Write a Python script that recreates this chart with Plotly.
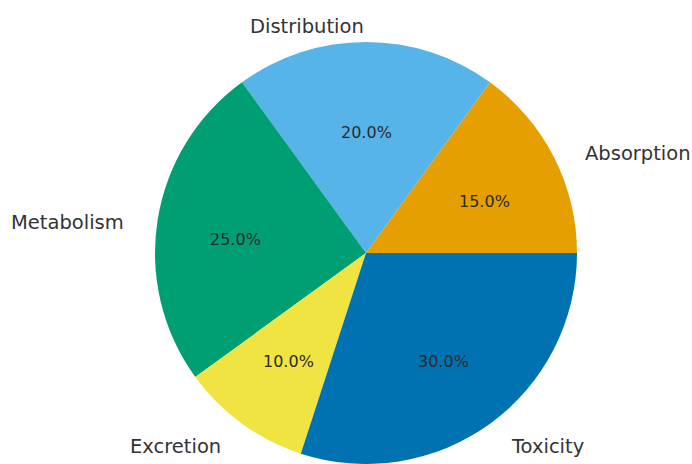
import math
import plotly.graph_objects as go

labels = ["Absorption", "Distribution", "Metabolism", "Excretion", "Toxicity"]
values = [15, 20, 25, 10, 30]
colors = ["#E69F00", "#56B4E9", "#009E73", "#F0E442", "#0072B2"]

W, H = 692, 464
cx, cy, R = 366, 253, 211  # pie centre / radius in pixels
# text placement geometry (the original figure is slightly stretched horizontally)
tx_c, ty_c, tRx, tRy = 366, 259, 221, 211

dom_x = [(cx - R) / W, (cx + R) / W]
dom_y = [1 - (cy + R) / H, 1 - (cy - R) / H]

total = sum(values)
# plotly's counterclockwise pies place the END of the first slice at `rotation`;
# we want the first slice to START at 3 o'clock.
rotation = 90 - 360 * values[0] / total

fig = go.Figure(go.Pie(
    labels=labels, values=values, sort=False,
    direction="counterclockwise", rotation=rotation,
    marker=dict(colors=colors, line=dict(width=0)),
    textinfo="none", hoverinfo="label+percent",
    domain=dict(x=dom_x, y=dom_y), showlegend=False,
))

annotations = []
start = 0.0
for lab, v in zip(labels, values):
    frac = v / total
    theta = 2 * math.pi * (start + frac / 2)
    start += frac
    c, s = math.cos(theta), math.sin(theta)
    lx = tx_c + 1.1 * tRx * c
    ly = ty_c - 1.1 * tRy * s
    annotations.append(dict(
        x=lx / W, y=1 - ly / H, xref="paper", yref="paper",
        text=lab, showarrow=False,
        xanchor="left" if c > 1e-6 else "right", yanchor="middle",
        font=dict(family="DejaVu Sans", size=19.5, color="#333333"),
    ))
    px = tx_c + 0.6 * tRx * c
    py = ty_c - 0.6 * tRy * s
    annotations.append(dict(
        x=px / W, y=1 - py / H, xref="paper", yref="paper",
        text=f"{100 * frac:.1f}%", showarrow=False,
        xanchor="center", yanchor="middle",
        font=dict(family="DejaVu Sans", size=16, color="#2b2b2b"),
    ))

fig.update_layout(
    width=W, height=H, margin=dict(l=0, r=0, t=0, b=0),
    paper_bgcolor="white", plot_bgcolor="white",
    annotations=annotations,
)

fig.write_html("out.html")
